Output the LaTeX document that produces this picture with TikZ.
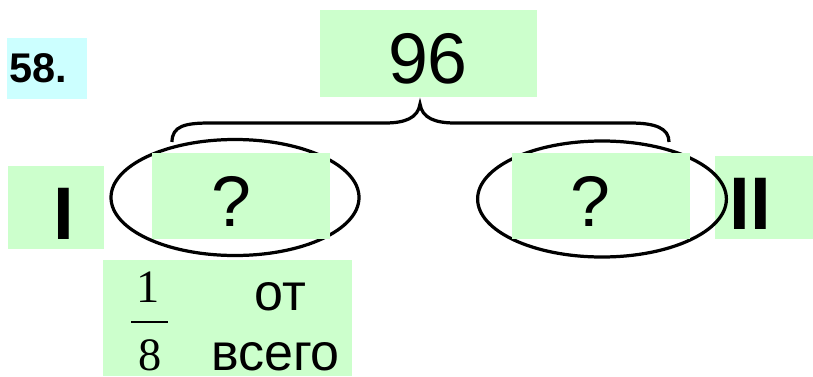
\documentclass[tikz,border=0pt]{standalone}
\usepackage{fontspec}
\setmainfont{Liberation Sans}
\newfontfamily\numserif{Liberation Serif}
\definecolor{boxgreen}{HTML}{CCFFCC}
\definecolor{boxcyan}{HTML}{CCFFFF}

\begin{document}
\begin{tikzpicture}[x=1cm,y=1cm,line width=2.3pt,
  greenbox/.style={fill=boxgreen,inner sep=0pt},
  txt/.style={anchor=base,inner sep=0pt}]
\useasboundingbox (0,0) rectangle (20.325,9.4);
% boxes behind the ovals
\node[fill=boxcyan,inner sep=0pt,minimum width=2cm,minimum height=1.525cm] (numbox) at (1.175,7.6875) {};
\node[greenbox,minimum width=5.425cm,minimum height=2.175cm] (totalbox) at (10.7125,8.0625) {};
\node[greenbox,minimum width=2.4cm,minimum height=2.075cm] (onebox) at (1.4,4.2125) {};
\node[greenbox,minimum width=2.45cm,minimum height=2.075cm] (twobox) at (19.1,4.4625) {};
\node[greenbox,minimum width=6.225cm,minimum height=2.9cm] (partbox) at (5.6875,1.45) {};
% ovals and brace
\draw (5.875,4.4625) ellipse [x radius=3.1,y radius=1.45];
\draw (15.05,4.425) ellipse [x radius=3.11,y radius=1.45];
\draw (4.3,5.85) .. controls (4.3,6.25) and (4.625,6.325) .. (5.25,6.325) -- (9.625,6.325)
  .. controls (10.125,6.325) and (10.45,6.45) .. (10.5,6.8)
  .. controls (10.55,6.45) and (10.875,6.325) .. (11.375,6.325) -- (15.75,6.325)
  .. controls (16.375,6.325) and (16.725,6.2) .. (16.725,5.85);
\node[greenbox,minimum width=4.45cm,minimum height=2.15cm] (leftbox) at (6.025,4.5) {};
\node[greenbox,minimum width=4.45cm,minimum height=2.15cm] (rightbox) at (15.025,4.5) {};
% texts
\node[txt,font=\fontsize{29.5}{30}\selectfont\bfseries] (num) at (0.9625,7.35) {58.};
\node[txt,font=\fontsize{51}{52}\selectfont] (total) at (10.7,7.325) {96};
\node[txt,font=\fontsize{51}{52}\selectfont] (leftq) at (5.775,3.75) {?};
\node[txt,font=\fontsize{51}{52}\selectfont] (rightq) at (14.75,3.75) {?};
\node[txt,font=\fontsize{53}{54}\selectfont\bfseries] (one) at (1.6,3.425) {I};
\node[txt,font=\fontsize{53}{54}\selectfont\bfseries] (two) at (18.7625,3.675) {II};
\node[txt,font=\fontsize{33}{34}\selectfont\numserif] (numer) at (3.7,1.85) {1};
\draw[line width=1.8pt] (3.275,1.35) -- (4.2,1.35);
\node[txt,font=\fontsize{33}{34}\selectfont\numserif] (denom) at (3.75,0.15) {8};
\node[txt,font=\fontsize{37}{38}\selectfont] (ot) at (7.0125,1.65) {от};
\node[txt,font=\fontsize{37}{38}\selectfont] (vsego) at (6.8875,0.15) {всего};
\end{tikzpicture}
\end{document}
